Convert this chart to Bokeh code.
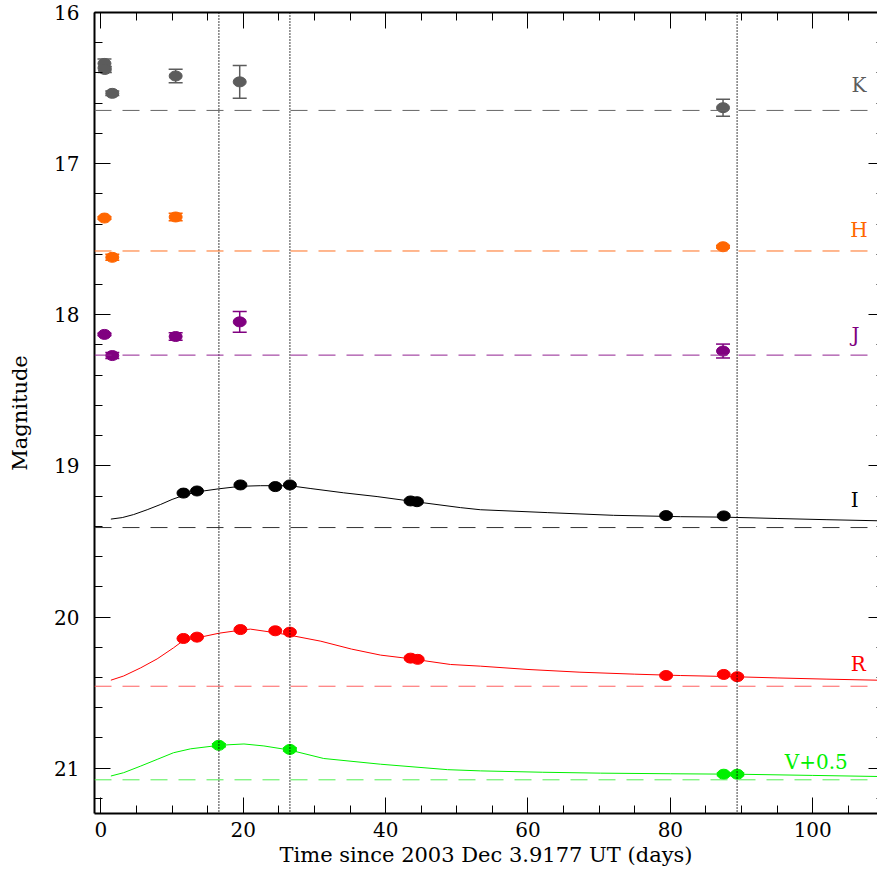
from bokeh.plotting import figure
from bokeh.models import (Range1d, LinearAxis, FixedTicker, Span, Whisker, TeeHead,
                          ColumnDataSource, CustomJSTickFormatter)
from bokeh.core.properties import value
from bokeh.embed import file_html
from bokeh.resources import INLINE

# ---------------- data ----------------
K_t = [0.5, 0.55, 1.6, 10.5, 19.5, 87.4]
K_m = [16.337, 16.377, 16.535, 16.42, 16.459, 16.63]
K_e = [0.03, 0.02, 0.015, 0.044, 0.109, 0.056]

H_t = [0.5, 1.6, 10.5, 87.4]
H_m = [17.36, 17.62, 17.353, 17.55]
H_e = [0.008, 0.02, 0.025, 0.008]

J_t = [0.5, 1.6, 10.5, 19.5, 87.4]
J_m = [18.13, 18.27, 18.144, 18.047, 18.24]
J_e = [0.008, 0.02, 0.025, 0.068, 0.046]

I_t = [11.6, 13.5, 19.6, 24.5, 26.55, 43.5, 44.4, 79.4, 87.5]
I_m = [19.18, 19.166, 19.126, 19.137, 19.126, 19.232, 19.237, 19.329, 19.331]

R_t = [11.6, 13.5, 19.6, 24.5, 26.55, 43.5, 44.5, 79.4, 87.5, 89.4]
R_m = [20.142, 20.133, 20.083, 20.091, 20.10, 20.272, 20.28, 20.387, 20.38, 20.395]

V_t = [16.57, 26.55, 87.5, 89.4]
V_m = [20.849, 20.876, 21.04, 21.04]
V_e = [0.01, 0.01, 0.008, 0.008]

# model light curves
Ic_t = [1.4, 3.0, 4.6, 6.5, 8.4, 10.0, 11.6, 13.5, 16.5, 19.6, 22.4, 26.5, 29.5,
        34.1, 38.8, 43.5, 50.5, 53.3, 62.7, 72.0, 81.4, 87.5, 95.0, 102.0, 109.1]
Ic_m = [19.352, 19.342, 19.322, 19.29, 19.255, 19.222, 19.195, 19.172, 19.152, 19.135,
        19.131, 19.131, 19.150, 19.178, 19.203, 19.233, 19.276, 19.29, 19.309, 19.327,
        19.336, 19.339, 19.348, 19.356, 19.363]

Rc_t = [1.4, 3.2, 5.6, 7.9, 10.2, 11.6, 13.5, 16.6, 19.6, 21.0, 24.5, 26.5, 30.9,
        35.2, 39.3, 43.5, 49.1, 53.3, 60.0, 67.3, 75.0, 81.4, 87.5, 95.0, 102.0, 109.1]
Rc_m = [20.418, 20.39, 20.336, 20.277, 20.204, 20.155, 20.138, 20.107, 20.087, 20.08,
        20.104, 20.12, 20.16, 20.212, 20.252, 20.276, 20.314, 20.325, 20.347, 20.365,
        20.378, 20.387, 20.393, 20.403, 20.411, 20.418]

Vc_t = [1.4, 3.2, 5.6, 7.9, 10.2, 12.6, 15.9, 18.0, 20.1, 22.9, 26.5, 31.3, 39.3,
        48.7, 53.3, 62.0, 70.2, 80.0, 89.4, 100.0, 109.1]
Vc_m = [21.052, 21.03, 20.986, 20.942, 20.898, 20.872, 20.853, 20.845, 20.84, 20.853,
        20.88, 20.936, 20.974, 21.01, 21.018, 21.027, 21.033, 21.037, 21.04, 21.048, 21.055]

# host / reference levels (dashed)
base_band = ["K", "H", "J", "I", "R", "V"]
base_m = [16.648, 17.578, 18.267, 19.408, 20.458, 21.077]

# epochs marked with dotted lines
vline_t = [16.57, 26.55, 89.38]

# band labels
lab_text = ["K", "H", "J", "I", "R", "V+0.5"]
lab_t = [106.5, 106.5, 106.0, 105.9, 106.4, 100.5]
lab_m = [16.48, 17.44, 18.133, 19.228, 20.314, 20.961]

x_ticks = [0, 20, 40, 60, 80, 100]
x_minor = [0, 5, 10, 15, 20, 25, 30, 35, 40, 45, 50, 55, 60, 65, 70, 75, 80, 85, 90, 95, 100, 105]
y_ticks = [16, 17, 18, 19, 20, 21]
y_minor = [16.0, 16.2, 16.4, 16.6, 16.8, 17.0, 17.2, 17.4, 17.6, 17.8, 18.0, 18.2, 18.4,
           18.6, 18.8, 19.0, 19.2, 19.4, 19.6, 19.8, 20.0, 20.2, 20.4, 20.6, 20.8, 21.0, 21.2]

colors = {"K": "#5c5c5c", "H": "#ff6600", "J": "#800080", "I": "#000000",
          "R": "#ff0000", "V": "#00f000"}
dash_colors = {"K": "#666666", "H": "#ff7020", "J": "#902090", "I": "#333333",
               "R": "#ff6060", "V": "#50f050"}

FONT = "DejaVu Serif"

p = figure(width=877, height=873, output_backend="svg", toolbar_location=None,
           x_range=Range1d(-0.9, 109.1), y_range=Range1d(21.3, 16.0),
           min_border_left=94, min_border_right=0, min_border_top=12, min_border_bottom=60,
           x_axis_label="Time since 2003 Dec 3.9177 UT (days)", y_axis_label="Magnitude")
p.xgrid.visible = False
p.ygrid.visible = False
p.outline_line_color = None
p.background_fill_color = "white"
p.border_fill_color = "white"

empty = CustomJSTickFormatter(code="return ''")
p.add_layout(LinearAxis(formatter=empty), "above")
p.add_layout(LinearAxis(formatter=empty), "right")

for ax in p.xaxis:
    ax.ticker = FixedTicker(ticks=x_ticks, minor_ticks=x_minor)
for ax in p.yaxis:
    ax.ticker = FixedTicker(ticks=y_ticks, minor_ticks=y_minor)

for ax in p.xaxis + p.yaxis:
    ax.axis_line_width = 2
    ax.axis_line_color = "black"
    ax.major_tick_in = 16
    ax.major_tick_out = 0
    ax.minor_tick_in = 8
    ax.minor_tick_out = 0
    ax.major_tick_line_color = "black"
    ax.minor_tick_line_color = "black"
    ax.major_label_text_font = FONT
    ax.major_label_text_font_size = "20px"
    ax.major_label_text_color = "black"
    ax.axis_label_text_font = FONT
    ax.axis_label_text_font_size = "21px"
    ax.axis_label_text_font_style = "normal"
    ax.axis_label_text_color = "black"
    ax.major_label_standoff = 0

p.below[0].major_label_standoff = 8
p.below[0].axis_label_standoff = 3
p.left[0].major_label_standoff = 15
p.left[0].axis_label_standoff = 19
# right edge of the original box falls outside the picture: only tick stubs show
p.right[0].axis_line_color = None
p.right[0].major_tick_in = 9
p.right[0].minor_tick_in = 1

# dotted epoch lines
for t in vline_t:
    p.add_layout(Span(location=t, dimension="height", line_color="black",
                      line_width=1.5, line_dash="1 2"))

# dashed reference levels
for b, m in zip(base_band, base_m):
    p.add_layout(Span(location=m, dimension="width", line_color=dash_colors[b],
                      line_width=1, line_dash="17 11"))

# model curves
p.line(Ic_t, Ic_m, line_color=colors["I"], line_width=1)
p.line(Rc_t, Rc_m, line_color=colors["R"], line_width=1)
p.line(Vc_t, Vc_m, line_color=colors["V"], line_width=1)


def points(t, m, col, err=None):
    data = dict(t=t, m=m)
    if err is not None:
        data["up"] = [a - e for a, e in zip(m, err)]
        data["lo"] = [a + e for a, e in zip(m, err)]
    src = ColumnDataSource(data)
    if err is not None:
        p.add_layout(Whisker(source=src, base="t", upper="up", lower="lo",
                             dimension="height", line_color=col, line_width=1.5,
                             upper_head=TeeHead(size=14, line_color=col, line_width=1.5),
                             lower_head=TeeHead(size=14, line_color=col, line_width=1.5)))
    p.ellipse(x="t", y="m", width=13, height=10, width_units="screen",
              height_units="screen", fill_color=col, line_color=col, source=src)


points(K_t, K_m, colors["K"], K_e)
points(H_t, H_m, colors["H"], H_e)
points(J_t, J_m, colors["J"], J_e)
points(I_t, I_m, colors["I"])
points(R_t, R_m, colors["R"])
points(V_t, V_m, colors["V"], V_e)

lab_src = ColumnDataSource(dict(x=lab_t, y=lab_m, text=lab_text,
                                color=[colors[b] for b in base_band]))
p.text(x="x", y="y", text="text", text_color="color", source=lab_src,
       text_font=value(FONT), text_font_size=value("20px"),
       text_align="center", text_baseline="middle")

open("out.html", "w").write(file_html(p, INLINE))
